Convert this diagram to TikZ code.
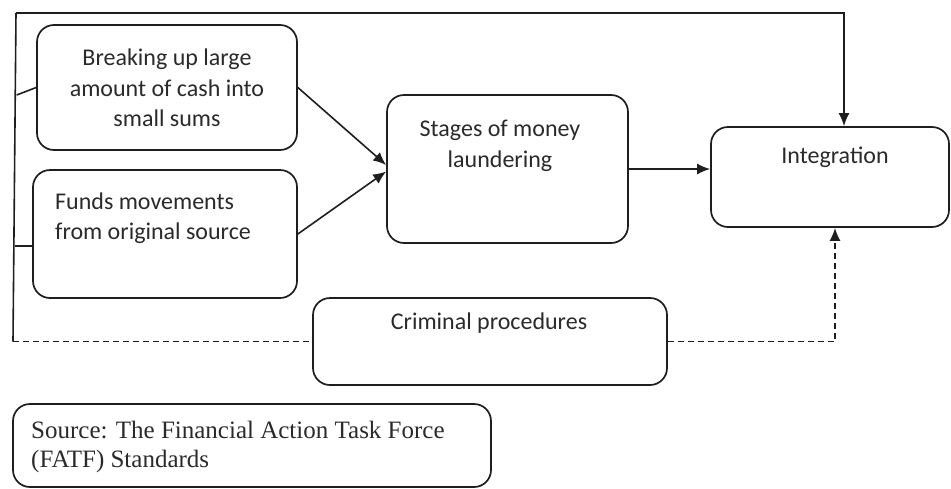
\documentclass[tikz,border=0pt]{standalone}
\usepackage{fontspec}
\setmainfont{Carlito}
\newfontfamily\srcfont{Liberation Serif}
\usetikzlibrary{arrows.meta}
\definecolor{ink}{HTML}{1E1E1E}
\definecolor{txt}{HTML}{2A2A2A}
\begin{document}
\begin{tikzpicture}[x=1pt,y=-1pt,
  box/.style={draw=ink, line width=1.7pt, rounded corners=17pt, inner sep=0pt},
  lbl/.style={text=txt, font=\fontsize{24}{30.5}\selectfont, inner sep=0pt},
  conn/.style={draw=ink, line width=1.6pt},
  tip/.style={-{Latex[length=13pt,width=11pt]}},
  arr/.style={conn, tip},
  dashconn/.style={conn, line width=1.7pt, dash pattern=on 6pt off 4pt}
]
\useasboundingbox (0,0) rectangle (951,488);
% boxes
\node[box, minimum width=260pt, minimum height=125pt] (b1) at (167,87.5) {};
\node[lbl, align=center] (t1) at (167,88) {Breaking up large\\amount of cash into\\small sums};
\node[box, minimum width=264pt, minimum height=128pt] (b2) at (165,234) {};
\node[lbl, align=left, anchor=west] (t2) at (55,218) {Funds movements\\from original source};
\node[box, minimum width=241pt, minimum height=148pt] (b3) at (507.5,169) {};
\node[lbl, align=center] (t3) at (500,146) {Stages of money\\laundering};
\node[box, minimum width=238pt, minimum height=100pt] (b4) at (830,177) {};
\node[lbl] (t4) at (835,157) {Integration};
\node[box, minimum width=354pt, minimum height=87pt] (b5) at (490,341.5) {};
\node[lbl] (t5) at (489,323) {Criminal procedures};
\node[box, minimum width=478pt, minimum height=83pt] (b6) at (252,445.5) {};
\node[lbl, font=\srcfont\fontsize{25}{29}\selectfont, align=left, anchor=west] (t6) at (31,447) {Source: The Financial Action Task Force\\(FATF) Standards};
% coordinates
\coordinate (tl) at (16,13);
\coordinate (bl) at (13,341.5);
\coordinate (j1) at (16.7,95);
\coordinate (j2) at (14.5,246);
\coordinate (tr) at (844,13);
\coordinate (dr) at (835,341.5);
% connectors
\draw[conn] (tl) -- (bl);
\draw[conn] (j1) -- (b1.west);
\draw[conn] (j2) -- (j2 -| b2.west);
\draw[arr] (b1.east) -- ([yshift=4pt]b3.west);
\draw[arr] (b2.east) -- ([yshift=-2.5pt]b3.west);
\draw[arr] (b3.east) -- (b3.east -| b4.west);
\draw[arr] (tl) -- (tr) -- (tr |- b4.north);
\draw[dashconn] (bl) -- (b5.west);
\draw[dashconn, tip] (b5.east) -- (dr) -- (dr |- b4.south);
\end{tikzpicture}
\end{document}
